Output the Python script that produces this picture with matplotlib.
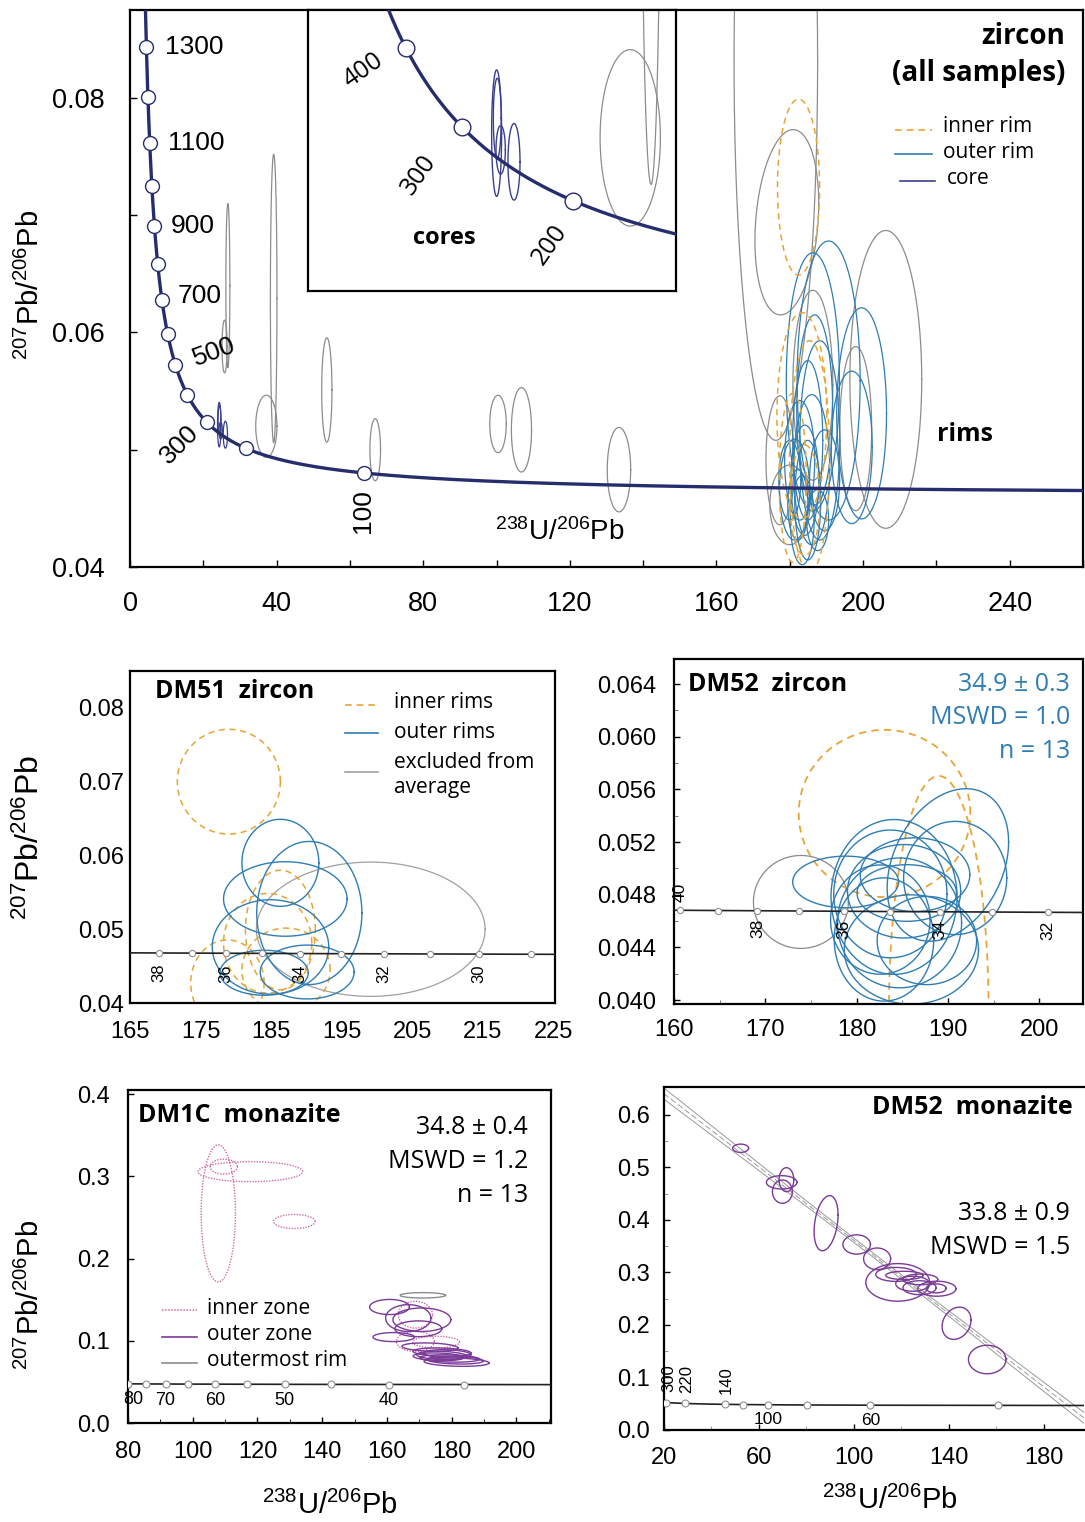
import numpy as np
import matplotlib
matplotlib.use('Agg')
import matplotlib.pyplot as plt
from matplotlib.lines import Line2D

plt.rcParams['font.family'] = ['Liberation Sans', 'DejaVu Sans']
plt.rcParams['mathtext.fontset'] = 'custom'
plt.rcParams['mathtext.rm'] = 'Liberation Sans'
plt.rcParams['mathtext.it'] = 'Liberation Sans:italic'
plt.rcParams['mathtext.bf'] = 'Liberation Sans:bold'

W, H = 1085, 1522
ANN = ['Open Sans', 'DejaVu Sans']

# decay constants (1/yr) and 238U/235U, used for the concordia curves
L238, L235, U85 = 1.55125e-10, 9.8485e-10, 137.88

# colours
NAVY = '#262d6c'
CORE = '#3a3f8c'
BLUE = '#2f7db3'
GREY = '#8c8c8c'
GOLD = '#e6a535'
PINK = '#d26aa6'
PURP = '#7a3a98'

# ---- data: error ellipses as (x, y, half-width x, half-width y[, rho]) ----
# top panel, zircon, all samples
top_core = [(24.35, 0.05214, 0.48, 0.0019), (24.41, 0.05259, 0.38, 0.0012),
            (24.74, 0.05164, 0.45, 0.00073), (26.02, 0.05128, 0.58, 0.00115)]
top_grey = [(25.8, 0.0588, 0.7, 0.00225), (26.7, 0.0640, 0.55, 0.0070),
            (39.2, 0.0629, 0.9, 0.0123), (37.2, 0.0520, 2.9, 0.00265),
            (53.7, 0.0551, 1.4, 0.00445), (66.9, 0.0500, 1.45, 0.00265),
            (100.4, 0.0522, 2.25, 0.00245), (106.8, 0.0517, 2.75, 0.0036),
            (133.4, 0.0483, 3.2, 0.0036), (176.2, 0.0831, 11.4, 0.0323),
            (179.2, 0.0694, 8.7, 0.0079, 0.2), (206.2, 0.0560, 9.8, 0.0127),
            (198.0, 0.0518, 4.35, 0.0070), (177.3, 0.0491, 3.8, 0.0055),
            (186.3, 0.0555, 5.45, 0.0081), (180.0, 0.0453, 5.45, 0.0034)]
top_outer = [(190.6, 0.0559, 8.6, 0.0119), (186.3, 0.0558, 7.25, 0.0110),
             (199.6, 0.0531, 6.8, 0.0090), (196.9, 0.0502, 5.6, 0.0065),
             (182.7, 0.0491, 4.1, 0.0051), (184.1, 0.0474, 3.8, 0.0047),
             (186.0, 0.0483, 4.9, 0.0064), (181.3, 0.0466, 4.1, 0.0043),
             (184.9, 0.0457, 3.55, 0.0051), (188.2, 0.0508, 5.45, 0.0085),
             (183.4, 0.0440, 3.25, 0.0038), (186.8, 0.0534, 4.9, 0.0081),
             (180.0, 0.0474, 3.0, 0.0034), (189.5, 0.0474, 4.1, 0.0043),
             (184.9, 0.0508, 4.1, 0.0068), (182.2, 0.0453, 2.75, 0.0030),
             (187.6, 0.0440, 3.0, 0.0026)]
top_inner = [(182.4, 0.0724, 5.75, 0.0075), (183.3, 0.0529, 6.8, 0.0088),
             (185.4, 0.0494, 5.45, 0.0099), (180.8, 0.0476, 3.7, 0.0072),
             (184.1, 0.0457, 4.1, 0.0047)]
top_ages = [1300, 1200, 1100, 1000, 900, 800, 700, 600, 500, 400, 300, 200, 100]

# DM51 zircon
dm51_inner = [(179.0, 0.0700, 7.3, 0.0071), (186.3, 0.0499, 4.95, 0.0081),
              (184.5, 0.0481, 6.25, 0.00675), (178.8, 0.0427, 5.2, 0.00585),
              (187.1, 0.0445, 6.25, 0.00565)]
dm51_outer = [(186.3, 0.0590, 5.45, 0.0059), (190.4, 0.0522, 7.45, 0.0097),
              (187.0, 0.0541, 8.75, 0.00505), (184.9, 0.0476, 8.25, 0.0064),
              (184.0, 0.0441, 6.25, 0.00305), (190.1, 0.0442, 6.65, 0.00365)]
dm51_excl = [(199.1, 0.0500, 16.2, 0.0091)]
dm51_ages = [38, 37, 36, 35, 34, 33, 32, 31, 30, 29]

# DM52 zircon
dm52z_inner = [(183.06, 0.05417, 9.4, 0.00635), (189.0, 0.03917, 5.46, 0.01785)]
dm52z_excl = [(173.9, 0.04745, 5.2, 0.00353)]
dm52z_outer = [(178.8, 0.04897, 5.8, 0.00196), (190.0, 0.05026, 6.65, 0.00579, 0.3),
               (190.8, 0.04927, 5.65, 0.0043), (184.1, 0.04783, 6.9, 0.00588),
               (183.7, 0.04806, 6.2, 0.00485), (184.7, 0.04586, 6.8, 0.00493),
               (183.0, 0.04460, 5.45, 0.00468), (186.0, 0.04384, 7.35, 0.00415),
               (185.5, 0.04813, 5.45, 0.00215), (185.2, 0.04826, 6.2, 0.00355),
               (187.7, 0.04452, 5.45, 0.00335), (182.6, 0.04611, 5.45, 0.00415),
               (186.4, 0.04952, 6.0, 0.0028)]
dm52z_ages = [40, 39, 38, 37, 36, 35, 34, 33, 32]

# DM1C monazite
dm1c_inner = [(107.9, 0.2549, 5.3, 0.0834), (117.8, 0.3057, 16.2, 0.0122),
              (109.6, 0.3118, 4.2, 0.0092), (131.4, 0.2451, 6.4, 0.0086),
              (168.8, 0.1317, 5.3, 0.0163), (168.8, 0.0992, 5.85, 0.0122),
              (175.2, 0.0984, 7.25, 0.0071)]
dm1c_outer = [(160.8, 0.1411, 6.15, 0.0092), (166.6, 0.1276, 7.0, 0.0163),
              (170.8, 0.1256, 8.95, 0.0143), (169.7, 0.1146, 7.25, 0.0096),
              (162.1, 0.1045, 6.4, 0.0055), (173.3, 0.0923, 8.65, 0.0051, -0.2),
              (177.0, 0.0862, 8.95, 0.0051, -0.2), (177.0, 0.0821, 7.8, 0.0051, -0.2),
              (179.4, 0.0785, 9.2, 0.0045, -0.2), (181.5, 0.0740, 10.05, 0.0051, -0.2),
              (175.9, 0.0805, 7.8, 0.0047, -0.2), (178.7, 0.0841, 7.25, 0.0051, -0.2),
              (181.1, 0.0764, 8.65, 0.0047, -0.2)]
dm1c_rim = [(171.1, 0.1553, 7.0, 0.0033)]
dm1c_ages = [80, 75, 70, 65, 60, 55, 50, 45, 40, 35]

# DM52 monazite
dm52m = [(52.3, 0.5364, 3.35, 0.0079), (71.6, 0.4766, 3.1, 0.0228),
         (69.6, 0.4715, 6.45, 0.0127), (69.9, 0.4538, 4.2, 0.0222),
         (88.3, 0.3937, 5.05, 0.0525, 0.3), (101.2, 0.3532, 5.8, 0.0184),
         (109.8, 0.3259, 5.7, 0.0206), (118.5, 0.2810, 13.45, 0.0358),
         (117.8, 0.2962, 8.55, 0.0133), (121.3, 0.2943, 7.85, 0.0079),
         (128.0, 0.2867, 7.35, 0.0102), (124.8, 0.2785, 7.15, 0.0143),
         (127.7, 0.2709, 7.0, 0.0133), (135.0, 0.2690, 8.05, 0.0143),
         (134.7, 0.2696, 4.2, 0.0086), (143.3, 0.2032, 6.1, 0.0307, 0.2),
         (156.2, 0.1342, 7.9, 0.0272)]
dm52m_ages = [300, 220, 140, 120, 100, 80, 60, 40]
dm52m_age = 33.8          # lower intercept (Ma)
dm52m_pb0 = 0.710         # upper intercept, 207Pb/206Pb at 238U/206Pb = 0
dm52m_env = (110.0, 0.004, 0.00011)   # envelope centroid x, min half-width, growth


def tw(age_ma):
    t = np.asarray(age_ma, float) * 1e6
    e8 = np.expm1(L238 * t)
    e5 = np.expm1(L235 * t)
    return 1.0 / e8, e5 / e8 / U85


def ellipses(ax, rows, **kw):
    th = np.linspace(0, 2 * np.pi, 241)
    for r in rows:
        x, y, ex, ey = r[:4]
        rho = r[4] if len(r) > 4 else 0.0
        xs = x + ex * np.cos(th)
        ys = y + ey * (rho * np.cos(th) + np.sqrt(1 - rho ** 2) * np.sin(th))
        ax.plot(xs, ys, **kw)


def concordia(ax, t_lo, t_hi, ages, lw, color, ms, mec, mew, z=5):
    t = np.geomspace(t_lo, t_hi, 800)
    x, y = tw(t)
    ax.plot(x, y, color=color, lw=lw, zorder=z, solid_capstyle='butt')
    mx, my = tw(ages)
    ax.plot(mx, my, 'o', ms=ms, mfc='white', mec=mec, mew=mew, zorder=z + 1)
    return mx, my


def add_axes(l, t, r, b):
    ax = fig.add_axes([l / W, 1 - b / H, (r - l) / W, (b - t) / H])
    for s in ax.spines.values():
        s.set_linewidth(1.6)
    ax.tick_params(direction='in', length=5, width=1, colors='black')
    return ax


def ftext(px, py, s, **kw):
    return fig.text(px / W, 1 - py / H, s, **kw)


def legend_line(px0, px1, py, **kw):
    fig.add_artist(Line2D([px0 / W, px1 / W], [1 - py / H, 1 - py / H], **kw))


YLAB = r'$^{207}$Pb/$^{206}$Pb'
XLAB = r'$^{238}$U/$^{206}$Pb'

fig = plt.figure(figsize=(W / 100, H / 100), dpi=100, facecolor='white')

# ===================== top panel =====================
ax = add_axes(130, 10, 1083, 567)
ax.set_xlim(0, 260)
ax.set_ylim(0.04, 0.0875)
ax.set_xticks(np.arange(0, 261, 20))
ax.set_xticklabels([str(v) if v % 40 == 0 else '' for v in range(0, 261, 20)])
ax.set_yticks(np.arange(0.04, 0.0851, 0.01))
ax.set_yticklabels(['0.04', '', '0.06', '', '0.08'])
ax.tick_params(labelsize=19.5)
ax.tick_params(axis='x', pad=17)
ax.tick_params(axis='y', pad=18)

ellipses(ax, top_grey, color=GREY, lw=0.9)
ellipses(ax, top_outer, color=BLUE, lw=0.9)
ellipses(ax, top_inner, color=GOLD, lw=1.1, dashes=(4, 3))
ellipses(ax, top_core, color=CORE, lw=0.9)
mx, my = concordia(ax, 20, 1700, top_ages, 2.4, NAVY, 10, NAVY, 1.0)

top_lab = {1300: (19, 0, 0, 'left'), 1100: (18, 0, 0, 'left'), 900: (16, 0, 0, 'left'),
           700: (16, 4, 0, 'left'), 500: (39, 13, 20, 'center'),
           300: (-27, -22, 45, 'center'), 100: (-1, -38, 90, 'center')}
for a, x0, y0 in zip(top_ages, mx, my):
    if a in top_lab:
        dx, dy, rot, ha = top_lab[a]
        ax.annotate(str(a), (x0, y0), xytext=(dx, dy), textcoords='offset pixels',
                    rotation=rot, ha=ha, va='center', fontsize=19)

ftext(560, 532, XLAB, fontsize=20, ha='center', va='center')
ftext(1065, 37, 'zircon', fontsize=20, fontweight='bold', family=ANN, ha='right', va='center')
ftext(1065, 73, '(all samples)', fontsize=20, fontweight='bold', family=ANN, ha='right', va='center')
ftext(965, 434, 'rims', fontsize=18, fontweight='bold', family=ANN, ha='center', va='center')
legend_line(895, 932, 130, color=GOLD, lw=1.2, dashes=(4, 3))
legend_line(895, 932, 154, color=BLUE, lw=1.2)
legend_line(900, 935, 181, color=CORE, lw=1.2)
ftext(943, 127, 'inner rim', fontsize=15, family=ANN, va='center')
ftext(943, 152, 'outer rim', fontsize=15, family=ANN, va='center')
ftext(947, 179, 'core', fontsize=15, family=ANN, va='center')
ftext(30, 285, YLAB, fontsize=21, rotation=90, ha='center', va='center')

# inset (cores)
ai = add_axes(308, 10, 676, 291)
ai.set_xlim(6.21, 41.6)
ai.set_ylim(0.0474, 0.05584)
ai.set_xticks([])
ai.set_yticks([])
ellipses(ai, top_grey, color=GREY, lw=0.9)
ellipses(ai, top_core, color=CORE, lw=1.0)
ins_ages = [400, 300, 200]
mx, my = concordia(ai, 100, 700, ins_ages, 2.4, NAVY, 12, NAVY, 1.0)
for a, x0, y0, (dx, dy) in zip(ins_ages, mx, my, [(-43, -22), (-43, -48), (-24, -44)]):
    ai.annotate(str(a), (x0, y0), xytext=(dx, dy), textcoords='offset pixels',
                rotation=35 if a == 400 else 55, ha='center', va='center',
                fontsize=18, family=ANN)
ftext(444, 238, 'cores', fontsize=17, fontweight='bold', family=ANN, ha='center', va='center')

# ===================== DM51 zircon =====================
ax = add_axes(130, 671, 555, 1003)
ax.set_xlim(165, 225.2)
ax.set_ylim(0.04, 0.085)
ax.set_xticks(np.arange(165, 226, 10))
ax.set_yticks(np.arange(0.04, 0.0801, 0.01))
ax.set_yticklabels(['0.04', '0.05', '0.06', '0.07', '0.08'])
ax.tick_params(labelsize=17, length=0)
ax.tick_params(axis='x', pad=13)
ax.tick_params(axis='y', pad=4)
ellipses(ax, dm51_excl, color='#a0a0a0', lw=0.9)
ellipses(ax, dm51_inner, color=GOLD, lw=1.1, dashes=(4, 3))
ellipses(ax, dm51_outer, color=BLUE, lw=1.0)
mx, my = concordia(ax, 28, 40, dm51_ages, 1.2, '#222222', 4.5, '#909090', 0.8)
for a, x0, y0 in zip(dm51_ages, mx, my):
    if a % 2 == 0:
        ax.annotate(str(a), (x0, y0), xytext=(0, -20), textcoords='offset pixels',
                    rotation=90, ha='center', va='center', fontsize=12)
ftext(155, 692, 'DM51  zircon', fontsize=18, fontweight='bold', family=ANN, va='center')
legend_line(345, 378, 705, color=GOLD, lw=1.2, dashes=(4, 3))
legend_line(345, 378, 733, color=BLUE, lw=1.2)
legend_line(345, 378, 772, color='#a0a0a0', lw=1.2)
for py, s in [(703, 'inner rims'), (732, 'outer rims'), (762, 'excluded from'), (787, 'average')]:
    ftext(394, py, s, fontsize=15, family=ANN, va='center')
ftext(30, 838, YLAB, fontsize=23, rotation=90, ha='center', va='center')

# ===================== DM52 zircon =====================
ax = add_axes(674, 659, 1083, 1004)
ax.set_xlim(160, 204.8)
ax.set_ylim(0.0397, 0.0659)
ax.set_xticks(np.arange(160, 201, 10))
ax.set_xticks(np.arange(165, 205, 5), minor=True)
ax.set_yticks(np.arange(0.040, 0.0641, 0.004))
ax.set_yticks(np.arange(0.042, 0.065, 0.004), minor=True)
ax.set_yticklabels(['%.3f' % v for v in np.arange(0.040, 0.0641, 0.004)])
ax.tick_params(labelsize=17, length=4)
ax.tick_params(axis='x', pad=11)
ax.tick_params(axis='y', pad=13)
ax.tick_params(which='minor', direction='in', length=3, colors='#666666')
ellipses(ax, dm52z_excl, color='#8a8a8a', lw=0.9)
ellipses(ax, dm52z_inner, color=GOLD, lw=1.3, dashes=(4, 3))
ellipses(ax, dm52z_outer, color=BLUE, lw=1.0)
mx, my = concordia(ax, 31, 41, dm52z_ages, 1.2, '#222222', 4.5, '#909090', 0.8)
for a, x0, y0 in zip(dm52z_ages, mx, my):
    if a % 2 == 0:
        dy = 18 if a == 40 else -18
        ax.annotate(str(a), (x0, y0), xytext=(0, dy), textcoords='offset pixels',
                    rotation=90, ha='center', va='center', fontsize=12.5)
ftext(688, 684, 'DM52  zircon', fontsize=18, fontweight='bold', family=ANN, va='center')
for py, s in [(684, '34.9 ± 0.3'), (717, 'MSWD = 1.0'), (751, 'n = 13')]:
    ftext(1070, py, s, fontsize=18, family=ANN, color=BLUE, ha='right', va='center')

# ===================== DM1C monazite =====================
ax = add_axes(128, 1090, 551, 1423)
ax.set_xlim(80, 210.7)
ax.set_ylim(0.0, 0.405)
ax.set_xticks(np.arange(80, 201, 20))
ax.set_xticks(np.arange(90, 211, 10), minor=True)
ax.set_yticks(np.arange(0.0, 0.41, 0.1))
ax.set_yticklabels(['0.0', '0.1', '0.2', '0.3', '0.4'])
ax.tick_params(labelsize=17, length=4)
ax.tick_params(axis='x', pad=13)
ax.tick_params(axis='y', pad=13)
ax.tick_params(which='minor', direction='in', length=3)
ellipses(ax, dm1c_inner, color=PINK, lw=1.0, linestyle=(0, (1, 1)))
ellipses(ax, dm1c_outer, color=PURP, lw=1.0)
ellipses(ax, dm1c_rim, color=GREY, lw=1.0)
mx, my = concordia(ax, 29, 82, dm1c_ages, 1.2, '#222222', 5, '#909090', 0.8)
for a, x0, y0 in zip(dm1c_ages, mx, my):
    if a % 10 == 0:
        dx = 5 if a == 80 else 0
        ax.annotate(str(a), (x0, y0), xytext=(dx, -16), textcoords='offset pixels',
                    ha='center', va='center', fontsize=13)
ftext(138, 1116, 'DM1C  monazite', fontsize=18, fontweight='bold', family=ANN, va='center')
for py, s in [(1128, '34.8 ± 0.4'), (1162, 'MSWD = 1.2'), (1196, 'n = 13')]:
    ftext(528, py, s, fontsize=18, family=ANN, ha='right', va='center')
legend_line(162, 197, 1310, color=PINK, lw=1.1, linestyle=(0, (1, 1)))
legend_line(162, 197, 1337, color=PURP, lw=1.2)
legend_line(162, 197, 1363, color=GREY, lw=1.2)
for py, s in [(1308, 'inner zone'), (1335, 'outer zone'), (1361, 'outermost rim')]:
    ftext(207, py, s, fontsize=15, family=ANN, va='center')
ftext(30, 1295, YLAB, fontsize=21, rotation=90, ha='center', va='center')
ftext(330, 1505, XLAB, fontsize=21, ha='center', va='center')

# ===================== DM52 monazite =====================
ax = add_axes(664, 1087, 1084, 1430)
ax.set_xlim(20, 197)
ax.set_ylim(0.0, 0.653)
ax.set_xticks(np.arange(20, 181, 40))
ax.set_xticks(np.arange(40, 197, 20), minor=True)
ax.set_yticks(np.arange(0.0, 0.61, 0.1))
ax.set_yticklabels(['%.1f' % v for v in np.arange(0.0, 0.61, 0.1)])
ax.set_yticks(np.arange(0.05, 0.65, 0.1), minor=True)
ax.tick_params(labelsize=17, length=4)
ax.tick_params(axis='x', pad=12)
ax.tick_params(axis='y', pad=10)
ax.tick_params(which='minor', direction='in', length=3, colors='#888888')
ax.spines['right'].set_visible(False)

# discordia through lower intercept and common-Pb intercept, with envelope
xi, yi = tw([dm52m_age])
xs = np.linspace(20, 197, 200)
yc = dm52m_pb0 + (yi[0] - dm52m_pb0) * xs / xi[0]
xc, e0, g = dm52m_env
hw = np.hypot(e0, g * (xs - xc))
ax.plot(xs, yc, color='#9a9a9a', lw=0.7, dashes=(6, 3))
ax.plot(xs, yc + hw, color='#9a9a9a', lw=0.7)
ax.plot(xs, yc - hw, color='#9a9a9a', lw=0.7)
ellipses(ax, dm52m, color=PURP, lw=1.0)
mx, my = concordia(ax, 32, 320, dm52m_ages, 1.2, '#222222', 5, '#909090', 0.8)
for a, x0, y0 in zip(dm52m_ages, mx, my):
    if a in (300, 220, 140):
        ax.annotate(str(a), (x0, y0), xytext=(2, 24), textcoords='offset pixels',
                    rotation=90, ha='center', va='center', fontsize=12)
    elif a in (100, 60):
        ax.annotate(str(a), (x0, y0), xytext=(0, -15), textcoords='offset pixels',
                    ha='center', va='center', fontsize=12.5)
ftext(1073, 1108, 'DM52  monazite', fontsize=18, fontweight='bold', family=ANN,
      ha='right', va='center')
for py, s in [(1213, '33.8 ± 0.9'), (1247, 'MSWD = 1.5')]:
    ftext(1070, py, s, fontsize=18, family=ANN, ha='right', va='center')
ftext(890, 1500, XLAB, fontsize=21, ha='center', va='center')

fig.savefig('out.png', dpi=100, facecolor='white')
